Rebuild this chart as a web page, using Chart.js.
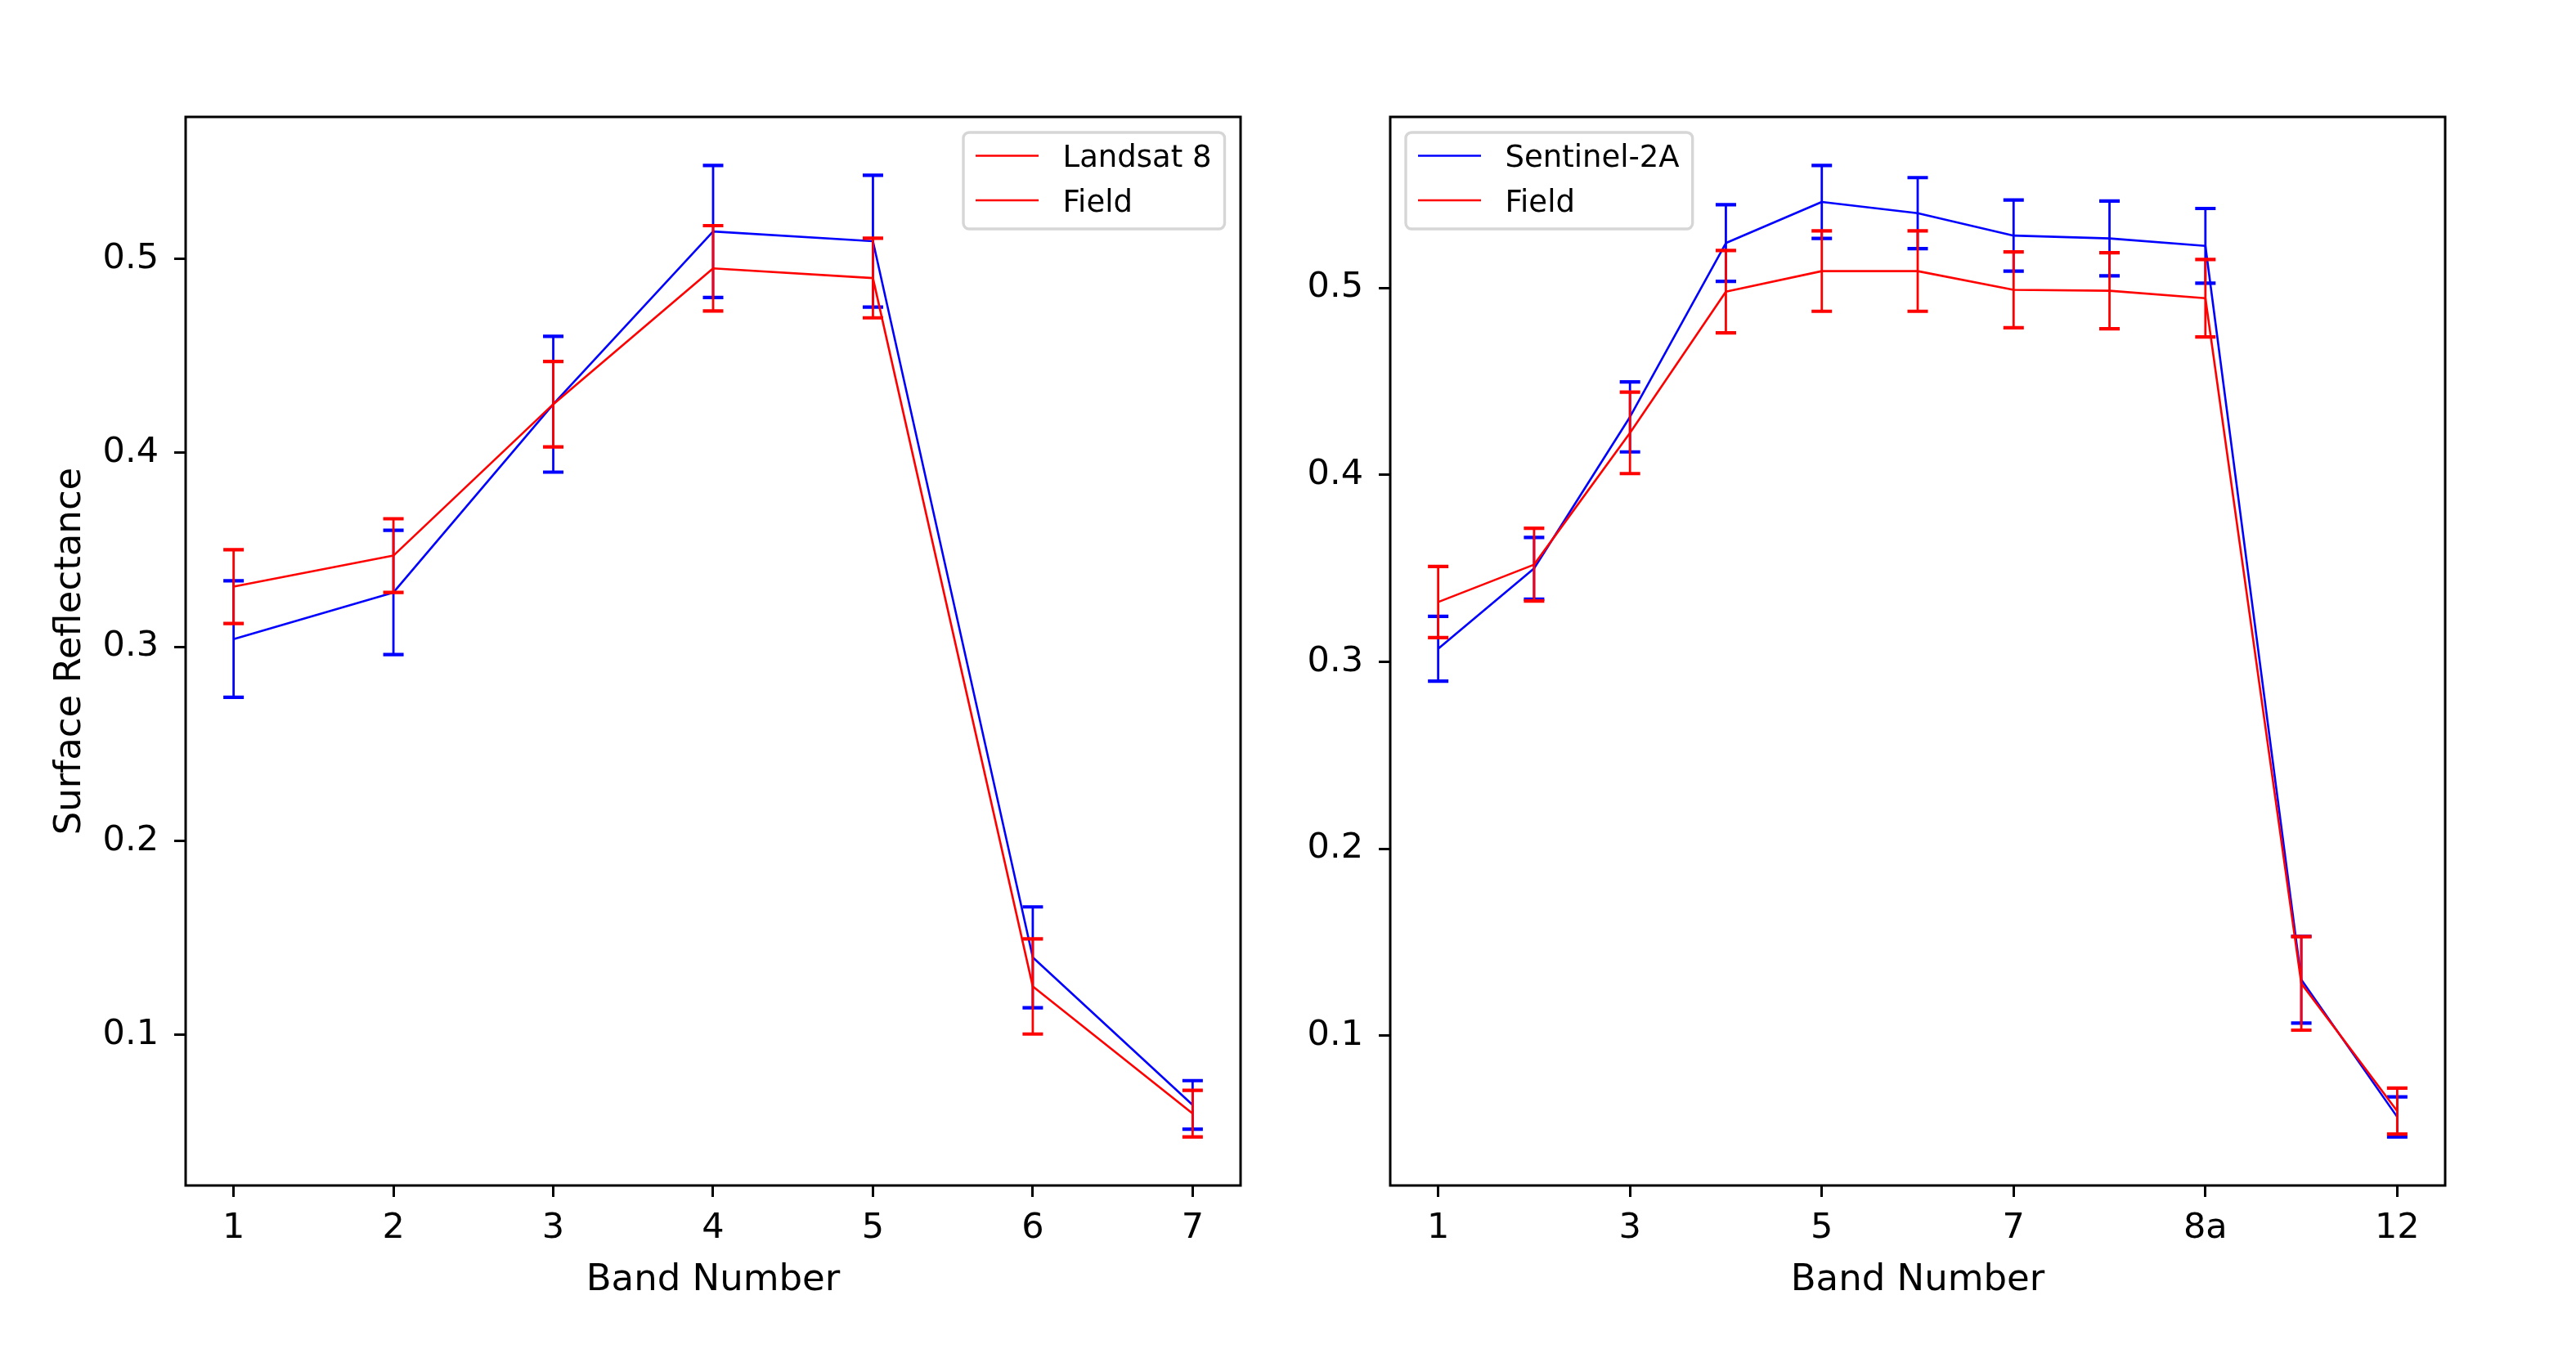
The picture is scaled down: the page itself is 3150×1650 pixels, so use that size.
<!DOCTYPE html>
<html>
<head>
<meta charset="utf-8">
<script src="https://cdn.jsdelivr.net/npm/chart.js@4.4.0/dist/chart.umd.min.js"></script>
<style>
  html, body { margin: 0; padding: 0; background: #fff; }
  #wrap { position: relative; width: 3150px; height: 1650px; }
  canvas { position: absolute; top: 0; }
  #left { left: 0; }
  #right { left: 1575px; }
</style>
</head>
<body>
<div id="wrap">
  <canvas id="left" width="1575" height="1650"></canvas>
  <canvas id="right" width="1575" height="1650"></canvas>
</div>
<script>
// Landsat 8 panel
const landsatBands = ['1', '2', '3', '4', '5', '6', '7'];
const landsatTickLabels = ['1', '2', '3', '4', '5', '6', '7'];
const landsatMean = [0.304, 0.328, 0.425, 0.514, 0.509, 0.140, 0.064];
const landsatStd = [0.030, 0.032, 0.035, 0.034, 0.034, 0.026, 0.0125];
const fieldL8Mean = [0.331, 0.347, 0.425, 0.495, 0.490, 0.125, 0.0595];
const fieldL8Std = [0.019, 0.019, 0.022, 0.022, 0.0205, 0.0245, 0.012];

// Sentinel-2A panel
const sentinelBands = ['1', '2', '3', '4', '5', '6', '7', '8', '8a', '11', '12'];
const sentinelTickLabels = ['1', '3', '5', '7', '8a', '12'];
const sentinelMean = [0.307, 0.350, 0.431, 0.524, 0.546, 0.540, 0.528, 0.5265, 0.5225, 0.130, 0.0566];
const sentinelStd = [0.0173, 0.0165, 0.0187, 0.0205, 0.0195, 0.019, 0.019, 0.020, 0.020, 0.0232, 0.0107];
const fieldS2Mean = [0.332, 0.352, 0.4225, 0.498, 0.509, 0.509, 0.499, 0.4985, 0.4945, 0.128, 0.0597];
const fieldS2Std = [0.019, 0.0195, 0.0218, 0.022, 0.0215, 0.0215, 0.0203, 0.0203, 0.0207, 0.025, 0.0123];

const yTicks = [0.1, 0.2, 0.3, 0.4, 0.5];

Chart.defaults.font.family = "'DejaVu Sans', sans-serif";
Chart.defaults.color = '#000';

const BLUE = '#0000ff';
const RED = '#ff0000';

// vertical error bars with caps, drawn right after their own line
const errorBars = {
  id: 'errorBars',
  afterDatasetDraw(chart, args) {
    const ds = chart.data.datasets[args.index];
    if (!ds.errors) return;
    const { ctx } = chart;
    const xs = chart.scales.x, ys = chart.scales.y;
    ctx.save();
    ctx.strokeStyle = ds.borderColor;
    ds.data.forEach((p, i) => {
      const px = xs.getPixelForValue(p.x);
      const top = ys.getPixelForValue(p.y + ds.errors[i]);
      const bot = ys.getPixelForValue(p.y - ds.errors[i]);
      ctx.lineWidth = 2.8;
      ctx.beginPath();
      ctx.moveTo(px, top);
      ctx.lineTo(px, bot);
      ctx.stroke();
      ctx.lineWidth = 4.2;
      ctx.beginPath();
      ctx.moveTo(px - 12.5, top); ctx.lineTo(px + 12.5, top);
      ctx.moveTo(px - 12.5, bot); ctx.lineTo(px + 12.5, bot);
      ctx.stroke();
    });
    ctx.restore();
  }
};

// full box around the plot area, like matplotlib spines
const frame = {
  id: 'frame',
  afterDraw(chart) {
    const { ctx, chartArea: a } = chart;
    ctx.save();
    ctx.strokeStyle = '#000';
    ctx.lineWidth = 3;
    ctx.strokeRect(a.left, a.top, a.right - a.left, a.bottom - a.top);
    ctx.restore();
  }
};

// legend box inside the axes
const boxLegend = {
  id: 'boxLegend',
  afterDraw(chart, args, opts) {
    const { ctx, chartArea: a } = chart;
    const items = chart.data.datasets;
    ctx.save();
    ctx.font = "37px 'DejaVu Sans'";
    const maxW = Math.max(...items.map(d => ctx.measureText(d.label).width));
    const w = 15 + 77 + 29.5 + maxW + 16;
    const h = 118;
    const x = opts.side === 'right' ? a.right - 19.5 - w : a.left + 19;
    const y = a.top + 19;
    ctx.beginPath();
    ctx.roundRect(x, y, w, h, 7);
    ctx.fillStyle = 'rgba(255,255,255,0.8)';
    ctx.fill();
    ctx.strokeStyle = '#d6d6d6';
    ctx.lineWidth = 3.4;
    ctx.stroke();
    items.forEach((d, i) => {
      const cy = y + 28.5 + i * 54.5;
      ctx.strokeStyle = d.legendColor || d.borderColor;
      ctx.lineWidth = 2.6;
      ctx.beginPath();
      ctx.moveTo(x + 15, cy);
      ctx.lineTo(x + 92, cy);
      ctx.stroke();
      ctx.fillStyle = '#000';
      ctx.textBaseline = 'alphabetic';
      ctx.textAlign = 'left';
      ctx.fillText(d.label, x + 121.5, cy + 13.5);
    });
    ctx.restore();
  }
};

function yLimits(pairs) {
  let lo = Infinity, hi = -Infinity;
  pairs.forEach(([m, e]) => m.forEach((v, i) => {
    lo = Math.min(lo, v - e[i]);
    hi = Math.max(hi, v + e[i]);
  }));
  const pad = (hi - lo) * 0.05;
  return [lo - pad, hi + pad];
}

function points(vals) {
  return vals.map((v, i) => ({ x: i, y: v }));
}

function makeChart(id, cfg) {
  const n = cfg.bands.length;
  const [ymin, ymax] = yLimits([[cfg.satMean, cfg.satStd], [cfg.fieldMean, cfg.fieldStd]]);
  return new Chart(document.getElementById(id), {
    type: 'line',
    data: {
      datasets: [
        {
          label: cfg.satLabel,
          data: points(cfg.satMean),
          errors: cfg.satStd,
          borderColor: BLUE,
          legendColor: cfg.satLegendColor,
          order: 2
        },
        {
          label: 'Field',
          data: points(cfg.fieldMean),
          errors: cfg.fieldStd,
          borderColor: RED,
          order: 1
        }
      ]
    },
    options: {
      responsive: false,
      animation: false,
      devicePixelRatio: 1,
      elements: {
        line: { borderWidth: 2.6, tension: 0, fill: false, borderJoinStyle: 'round' },
        point: { radius: 0, hoverRadius: 0 }
      },
      layout: { padding: { top: 143, right: cfg.padRight, bottom: 0, left: 0 } },
      plugins: {
        legend: { display: false },
        tooltip: { enabled: false },
        boxLegend: { side: cfg.legendSide }
      },
      scales: {
        x: {
          type: 'linear',
          min: -0.05 * (n - 1),
          max: (n - 1) * 1.05,
          border: { display: false },
          grid: { drawOnChartArea: false, drawTicks: true, tickLength: 14, lineWidth: 3, color: '#000' },
          ticks: {
            font: { size: 43 },
            padding: 13,
            autoSkip: false,
            maxRotation: 0,
            callback: v => cfg.bands[v]
          },
          afterBuildTicks: s => { s.ticks = cfg.tickLabels.map(l => ({ value: cfg.bands.indexOf(l) })); },
          afterFit: s => { s.height = 200; },
          title: {
            display: true,
            text: 'Band Number',
            font: { size: 45 },
            padding: { top: 0, bottom: 57 }
          }
        },
        y: {
          type: 'linear',
          min: ymin,
          max: ymax,
          border: { display: false },
          grid: { drawOnChartArea: false, drawTicks: true, tickLength: 14, lineWidth: 3, color: '#000' },
          ticks: {
            font: { size: 43 },
            padding: 19,
            callback: v => v.toFixed(1)
          },
          afterBuildTicks: s => { s.ticks = yTicks.map(v => ({ value: v })); },
          afterFit: s => { s.width = cfg.yWidth; },
          title: {
            display: cfg.yTitle,
            text: 'Surface Reflectance',
            font: { size: 45 },
            padding: { top: 59, bottom: 0 }
          }
        }
      }
    },
    plugins: [errorBars, frame, boxLegend]
  });
}

makeChart('left', {
  bands: landsatBands,
  tickLabels: landsatTickLabels,
  satLabel: 'Landsat 8',
  satLegendColor: RED,
  satMean: landsatMean,
  satStd: landsatStd,
  fieldMean: fieldL8Mean,
  fieldStd: fieldL8Std,
  legendSide: 'right',
  padRight: 58,
  yWidth: 227,
  yTitle: true
});

makeChart('right', {
  bands: sentinelBands,
  tickLabels: sentinelTickLabels,
  satLabel: 'Sentinel-2A',
  satMean: sentinelMean,
  satStd: sentinelStd,
  fieldMean: fieldS2Mean,
  fieldStd: fieldS2Std,
  legendSide: 'left',
  padRight: 160,
  yWidth: 125,
  yTitle: false
});
</script>
</body>
</html>
